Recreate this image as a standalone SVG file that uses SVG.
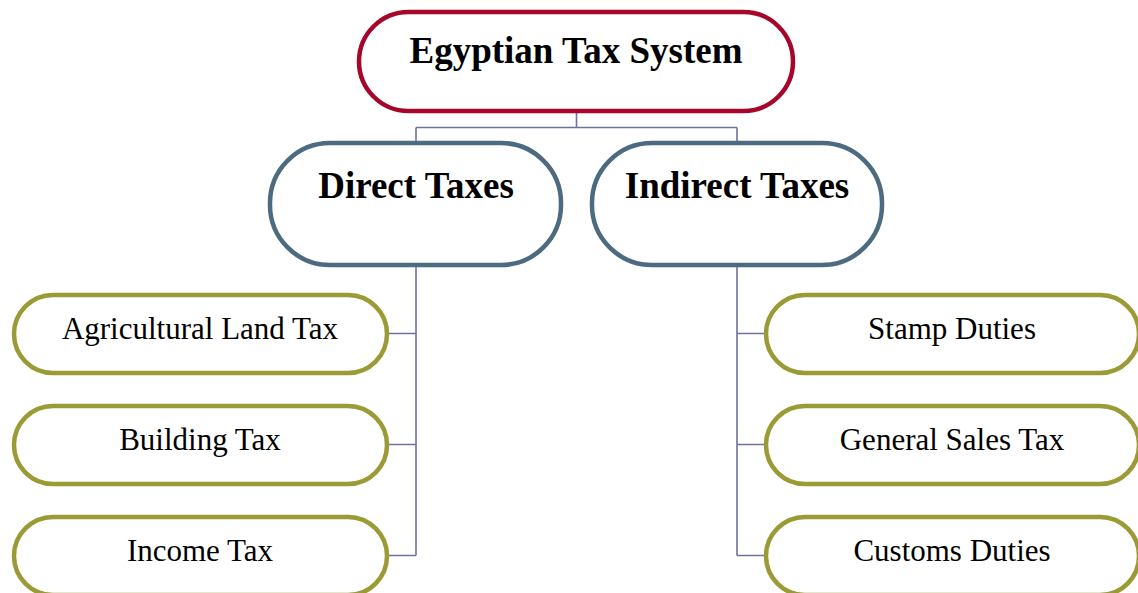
<svg xmlns="http://www.w3.org/2000/svg" width="1138" height="593" viewBox="0 0 1138 593">
<style>
.n{fill:#fff;stroke-width:4.5}
.top{stroke:#A5062A}
.mid{stroke:#4C6B80}
.leaf{stroke:#9B9B36}
.c{fill:none;stroke:#6F6FA6;stroke-width:1.6}
.tb{font-family:"Liberation Serif","Times New Roman",serif;font-weight:bold;font-size:37px;fill:#000;text-anchor:middle}
.tl{font-family:"Liberation Serif","Times New Roman",serif;font-size:31px;fill:#000;text-anchor:middle}
</style>
<rect width="1138" height="593" fill="#fff"/>
<g id="connectors">
<path class="c" d="M576.5 113V127.5M416 127.5H737M416 127.5V141M737 127.5V141"/>
<path class="c" d="M416 267V555.5M416 333.5H387M416 444.5H387M416 555.5H387"/>
<path class="c" d="M737 267V555.5M737 333.5H766M737 444.5H766M737 555.5H766"/>
</g>
<g id="egyptian-tax-system">
<rect class="n top" x="359" y="12" width="434" height="99" rx="49.5"/>
<text class="tb" x="576" y="63">Egyptian Tax System</text>
</g>
<g id="direct-taxes">
<rect class="n mid" x="270" y="143" width="291" height="122" rx="60"/>
<text class="tb" x="416" y="198">Direct Taxes</text>
</g>
<g id="indirect-taxes">
<rect class="n mid" x="592" y="143" width="290" height="122" rx="60"/>
<text class="tb" x="737" y="198">Indirect Taxes</text>
</g>
<g id="agricultural-land-tax">
<rect class="n leaf" x="14" y="295" width="373" height="78" rx="39"/>
<text class="tl" x="200" y="339">Agricultural Land Tax</text>
</g>
<g id="building-tax">
<rect class="n leaf" x="14" y="406" width="373" height="78" rx="39"/>
<text class="tl" x="200" y="450">Building Tax</text>
</g>
<g id="income-tax">
<rect class="n leaf" x="14" y="517" width="373" height="78" rx="39"/>
<text class="tl" x="200" y="561">Income Tax</text>
</g>
<g id="stamp-duties">
<rect class="n leaf" x="766" y="295" width="373" height="78" rx="39"/>
<text class="tl" x="952" y="339">Stamp Duties</text>
</g>
<g id="general-sales-tax">
<rect class="n leaf" x="766" y="406" width="373" height="78" rx="39"/>
<text class="tl" x="952" y="450">General Sales Tax</text>
</g>
<g id="customs-duties">
<rect class="n leaf" x="766" y="517" width="373" height="78" rx="39"/>
<text class="tl" x="952" y="561">Customs Duties</text>
</g>
</svg>
